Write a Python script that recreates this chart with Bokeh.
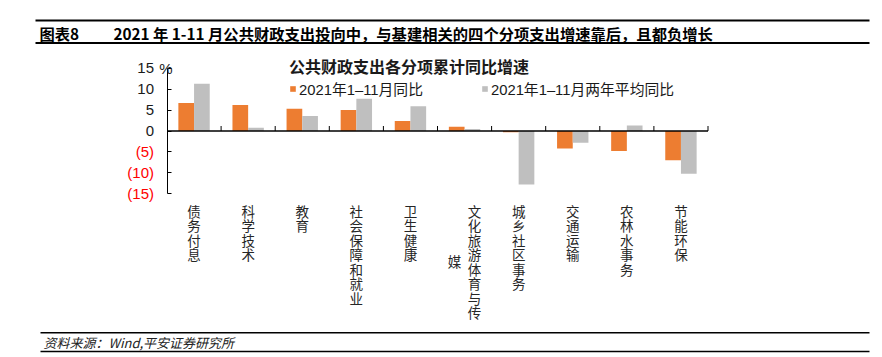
from bokeh.plotting import figure
from bokeh.models import (ColumnDataSource, Range1d, FixedTicker, LinearAxis,
                          Label, Legend, LegendItem)
from bokeh.transform import dodge
from bokeh.core.properties import value
from bokeh.embed import file_html
from bokeh.resources import INLINE

# ---------------- data ----------------
categories = ["债务付息", "科学技术", "教育", "社会保障和就业", "卫生健康",
              "文化旅游体育与传媒", "城乡社区事务", "交通运输", "农林水事务", "节能环保"]
yoy_2021 = [6.7, 6.2, 5.3, 5.0, 2.4, 1.0, -0.3, -4.2, -4.8, -7.0]
avg_two_year = [11.3, 0.8, 3.6, 7.7, 5.9, 0.5, -12.8, -2.8, 1.3, -10.2]
series_names = ["2021年1–11月同比", "2021年1–11月两年平均同比"]
pos_ticks = [0, 5, 10, 15]
pos_tick_labels = ["0", "5", "10", "15"]
neg_ticks = [-15, -10, -5]
neg_tick_labels = ["(15)", "(10)", "(5)"]
y_unit = "%"
legend_title = "公共财政支出各分项累计同比增速"
header_tag = "图表8"
header_title = "2021 年 1-11 月公共财政支出投向中，与基建相关的四个分项支出增速靠后，且都负增长"
source_note = "资料来源：Wind,平安证券研究所"

# ---------------- layout (page pixels) ----------------
W, H = 880, 355
N = len(categories)
Y_MIN, Y_MAX = neg_ticks[0], pos_ticks[-1]
PX_X0, PX_X1 = 166.5, 707.5        # x = 0 .. N
PX_YTOP, PX_YBOT = 67.7, 193.3     # y = Y_MAX .. Y_MIN
PX_PER_X = (PX_X1 - PX_X0) / N
PX_PER_Y = (PX_YBOT - PX_YTOP) / (Y_MAX - Y_MIN)

def xd(px):
    return (px - PX_X0) / PX_PER_X

def yd(py):
    return Y_MAX - (py - PX_YTOP) / PX_PER_Y

ORANGE = "#ED7D31"
GREY = "#BFBFBF"
CJK = "Noto Sans CJK SC"
LAT = "Liberation Sans, Noto Sans CJK SC"
TXT = "#1a1a1a"

p = figure(width=W, height=H, x_range=Range1d(xd(0), xd(W)), y_range=Range1d(yd(H), yd(0)),
           output_backend="svg", toolbar_location=None, min_border=0,
           x_axis_location=None, y_axis_location=None, outline_line_color=None,
           background_fill_color="white", border_fill_color="white")
p.grid.visible = False

# bars
pos = [i + 0.5 for i in range(N)]
src = ColumnDataSource(dict(pos=pos, a=yoy_2021, b=avg_two_year))
r1 = p.vbar(x=dodge("pos", -0.145), top="a", bottom=0, width=0.29,
            source=src, fill_color=ORANGE, line_color=None)
r2 = p.vbar(x=dodge("pos", 0.145), top="b", bottom=0, width=0.29,
            source=src, fill_color=GREY, line_color=None)

# zero line and category boundary ticks
p.segment(x0=[0], x1=[N], y0=[0], y1=[0], line_color="black", line_width=1.5)
bx = list(range(1, N + 1))
p.segment(x0=bx, x1=bx, y0=[0] * N, y1=[5 / PX_PER_Y] * N, line_color="black", line_width=1)

# y axes (fixed at x = 0): black positive labels, red negative labels
def make_axis(ticks, labels, color, line_color):
    ax = LinearAxis(fixed_location=0, ticker=FixedTicker(ticks=ticks), bounds=(Y_MIN, Y_MAX),
                    major_label_overrides=dict(zip(ticks, labels)),
                    major_tick_in=4, major_tick_out=0, minor_tick_in=0, minor_tick_out=0,
                    axis_line_color=line_color, major_tick_line_color="black",
                    major_label_standoff=13, major_label_text_font=LAT,
                    major_label_text_font_size="15px", major_label_text_color=color)
    p.add_layout(ax, "left")

make_axis(pos_ticks, pos_tick_labels, TXT, "black")
make_axis(neg_ticks, neg_tick_labels, "#FF0000", None)
p.add_layout(Label(x=0, y=Y_MAX, x_offset=-1, text=y_unit, text_align="center",
                   text_baseline="middle", text_font=LAT, text_font_size="15px",
                   text_color=TXT))

# category labels: stacked vertical characters, wrapped every 8 rows (right-to-left columns)
MAX_ROWS, ROW_PITCH, COL_PITCH, FIRST_ROW = 8, 14.5, 20, 210
cx, cy, ct = [], [], []
for i, cat in enumerate(categories):
    cols = [cat[j:j + MAX_ROWS] for j in range(0, len(cat), MAX_ROWS)]
    for c, col in enumerate(cols):
        off = ((len(cols) - 1) / 2 - c) * COL_PITCH
        shift = (len(cols[0]) - len(col)) / 2
        for r, ch in enumerate(col):
            cx.append(i + 0.5 + off / PX_PER_X)
            cy.append(yd(FIRST_ROW + (r + shift) * ROW_PITCH))
            ct.append(ch)
p.text(x=cx, y=cy, text=ct, text_align="center", text_baseline="middle",
       text_font=value(CJK), text_font_size="13.5px", text_color="#262626")

# legend
legend = Legend(items=[LegendItem(label=series_names[0], renderers=[r1]),
                       LegendItem(label=series_names[1], renderers=[r2])],
                title=legend_title, orientation="horizontal", location=(289, H - 99),
                title_text_font=CJK, title_text_font_size="16px",
                title_text_font_style="bold", title_text_color=TXT,
                title_standoff=-4, label_text_font=LAT, label_text_font_size="14.8px",
                label_text_color=TXT, glyph_width=7, glyph_height=7,
                label_height=14, label_standoff=3, spacing=58, padding=0, margin=0,
                border_line_color=None, background_fill_alpha=0)
p.add_layout(legend)

# header & footer rules
rx0 = [xd(35), xd(35), xd(40), xd(40)]
rx1 = [xd(869)] * 4
ry = [yd(20), yd(42.5), yd(332.3), yd(351)]
p.segment(x0=rx0[:2], x1=rx1[:2], y0=ry[:2], y1=ry[:2], line_color="black", line_width=2)
p.segment(x0=rx0[2:], x1=rx1[2:], y0=ry[2:], y1=ry[2:], line_color="black", line_width=1.5)

p.add_layout(Label(x=xd(39), y=yd(32), text=header_tag, text_align="left",
                   text_baseline="middle", text_font=CJK, text_font_size="15.3px",
                   text_font_style="bold", text_color="black"))
p.add_layout(Label(x=xd(113), y=yd(32), text=header_title, text_align="left",
                   text_baseline="middle", text_font=CJK, text_font_size="15.3px",
                   text_font_style="bold", text_color="black"))
p.add_layout(Label(x=xd(43), y=yd(341.5), text=source_note, text_align="left",
                   text_baseline="middle", text_font=CJK, text_font_size="13px",
                   text_font_style="italic", text_color="#222222"))

open("out.html", "w").write(file_html(p, INLINE))
